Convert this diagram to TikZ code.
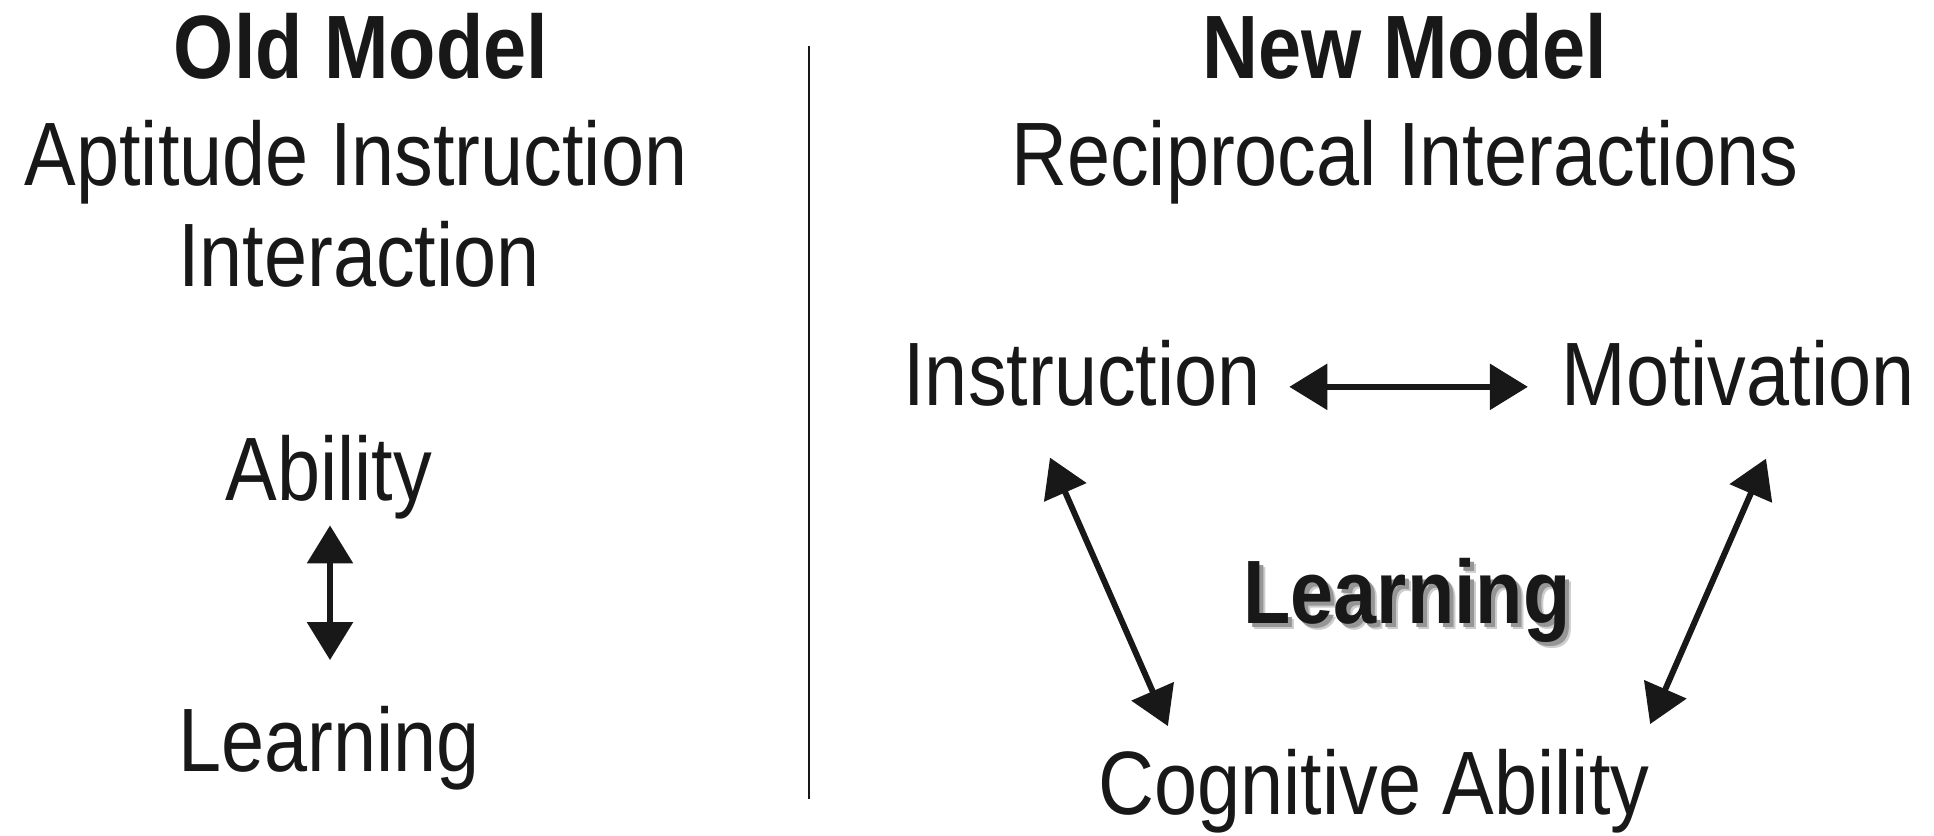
\documentclass[tikz,border=0pt]{standalone}
\usepackage{fontspec}
\setmainfont{Liberation Sans}[FakeStretch=0.86]
\usetikzlibrary{arrows.meta}
\usetikzlibrary{calc}
\definecolor{ink}{RGB}{24, 24, 24}
\definecolor{shade1}{RGB}{150, 150, 150}
\definecolor{shade2}{RGB}{205, 205, 205}

\begin{document}
\begin{tikzpicture}[x=0.01cm, y=-0.01cm,
  txt/.style={inner sep=0pt, anchor=base, text=ink, font=\fontsize{25.6}{30}\selectfont},
  head/.style={txt, font=\fontsize{25.6}{30}\selectfont\bfseries},
  both/.style={draw=ink, line width=1.7pt,
    {Triangle[length=0.38cm,width=0.45cm]}-{Triangle[length=0.38cm,width=0.45cm]}}]
  \useasboundingbox (0,0) rectangle (1934,835);

  % old model
  \node[head] (old) at (361,78) {Old Model};
  \node[txt] (ati) at (356,185) {Aptitude Instruction};
  \node[txt] (inter) at (359,286) {Interaction};
  \node[txt] (abl) at (329,500) {Ability};
  \node[txt] (lrn) at (329,771) {Learning};
  \draw[both] ([shift={(1,6)}]abl.south) -- ([shift={(1,-45)}]lrn.north);

  \coordinate (top) at (809,46);
  \coordinate (bot) at (809,799);
  \draw[ink, line width=0.8pt] (top) -- (bot);

  % new model
  \node[head] (new) at (1405,78) {New Model};
  \node[txt] (rec) at (1405,185) {Reciprocal Interactions};
  \node[txt] (instr) at (1082,405) {Instruction};
  \node[txt] (motiv) at (1738,405) {Motivation};
  \node[txt] (cog) at (1374,814) {Cognitive Ability};
  \node[head, text=shade2] (lrnsh2) at (1413,629) {Learning};
  \node[head, text=shade1] (lrnsh1) at (1411,627) {Learning};
  \node[head] (lrnb) at (1407,623) {Learning};

  \draw[both] ([shift={(28,14)}]instr.east) -- ([shift={(-33,14)}]motiv.west);
  \draw[both] ([shift={(-32,51)}]instr.south) -- ([shift={(70,-22)}]cog.north west);
  \draw[both] ([shift={(28,52)}]motiv.south) -- ([shift={(0,-24)}]cog.north east);
\end{tikzpicture}
\end{document}
